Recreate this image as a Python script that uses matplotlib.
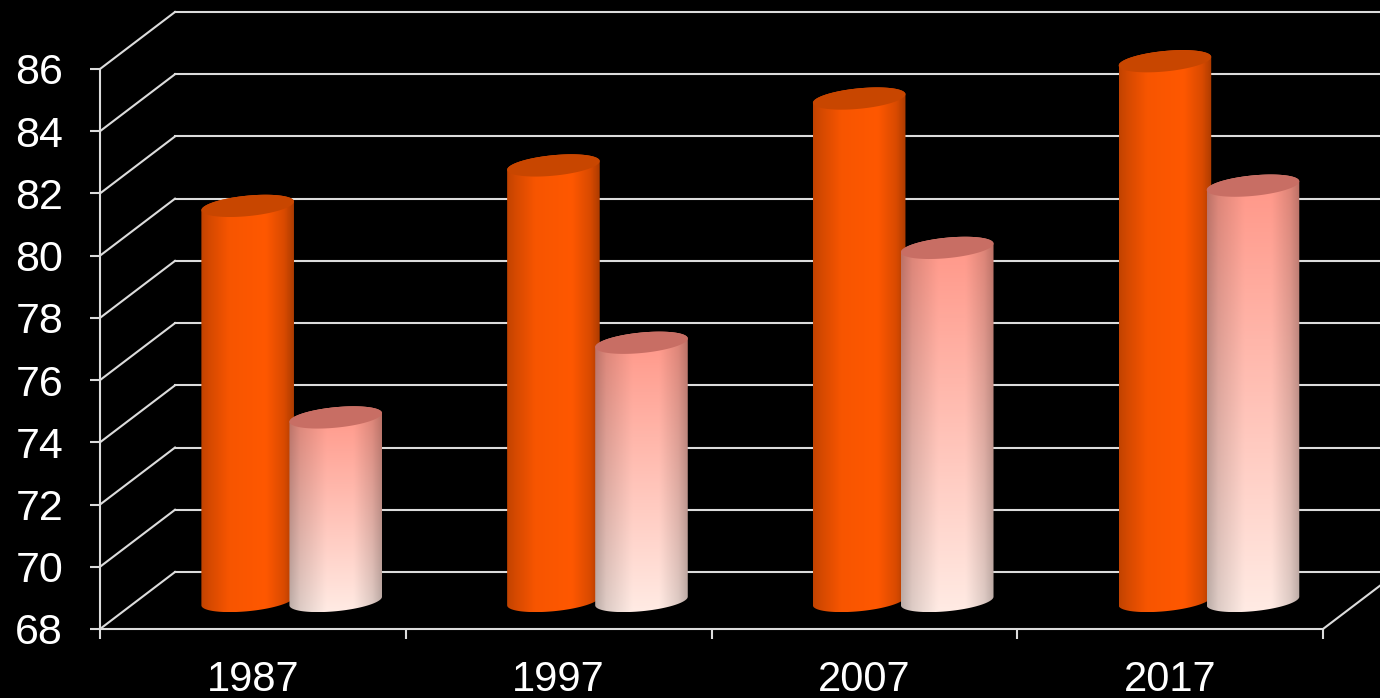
import numpy as np
import matplotlib
matplotlib.use('Agg')
import matplotlib.pyplot as plt
from matplotlib.path import Path
from matplotlib.patches import PathPatch

plt.rcParams['font.family'] = ['Liberation Sans', 'DejaVu Sans']

anni = ['1987', '1997', '2007', '2017']
serie_a = [80.7, 82.0, 84.15, 85.35]
serie_b = [73.9, 76.3, 79.35, 81.35]
valori_y = list(range(68, 88, 2))

L, R, T, B = 100, 1323, 69, 629
W, H = 1380, 698

fig = plt.figure(figsize=(W / 100, H / 100), dpi=100, facecolor='black')
ax = fig.add_axes([L / W, 1 - B / H, (R - L) / W, (B - T) / H], facecolor='black')

# quanti pixel vale una unita' sugli assi
px_x = (R - L) / len(anni)
px_y = (B - T) / (valori_y[-1] - valori_y[0])
prof_x = 75 / px_x
prof_y = 57 / px_y
grigio = '#dcdcdc'
A_ELL, B_ELL, PHI = 46.5, 10.2, np.radians(5.6)

# griglia di fondo e pareti laterali
for v in valori_y:
    ax.plot([prof_x, 4 + prof_x], [v + prof_y, v + prof_y], color=grigio, lw=1.5,
            clip_on=False, zorder=1)
    ax.plot([0, prof_x], [v, v + prof_y], color=grigio, lw=1.5, clip_on=False, zorder=1)
ax.plot([4, 4 + prof_x], [68, 68 + prof_y], color=grigio, lw=1.5, clip_on=False, zorder=1)


def ellisse(cx, cy, t):
    ex = A_ELL * np.cos(t) * np.cos(PHI) - B_ELL * np.sin(t) * np.sin(PHI)
    ey = A_ELL * np.cos(t) * np.sin(PHI) + B_ELL * np.sin(t) * np.cos(PHI)
    return np.column_stack([cx + ex / px_x, cy + ey / px_y])


def cilindro(cx, valore, col_alto, col_basso, col_tappo, luce, z):
    base = valori_y[0] + 0.9
    cima = valore + 0.9
    t0 = np.arctan(-(B_ELL / A_ELL) * np.tan(PHI))
    basso = ellisse(cx, base, np.linspace(t0 + np.pi, t0 + 2 * np.pi, 60))
    alto = ellisse(cx, cima, np.linspace(t0, t0 + np.pi, 60))
    punti = np.vstack([basso, alto, basso[:1]])
    corpo = PathPatch(Path(punti), fc='none', ec='none', transform=ax.transData)
    ax.add_patch(corpo)

    # sfumatura: luce in orizzontale, colore in verticale
    xs = np.linspace(0, 1, 120)
    ys = np.linspace(0, 1, 200)[:, None, None]
    fascia = np.interp(xs, luce[0], luce[1])[None, :, None]
    col = np.array(col_alto)[None, None, :] * (1 - ys) + np.array(col_basso)[None, None, :] * ys
    img = np.clip(col * fascia, 0, 255).astype(np.uint8)
    x0, x1 = punti[:, 0].min(), punti[:, 0].max()
    y0, y1 = punti[:, 1].min(), punti[:, 1].max()
    im = ax.imshow(img, extent=[x0, x1, y0, y1], aspect='auto', zorder=z, interpolation='bilinear')
    im.set_clip_box(fig.bbox)
    im.set_clip_path(corpo)

    tt = np.linspace(0, 2 * np.pi, 120)
    ax.add_patch(PathPatch(Path(ellisse(cx, cima, tt)), fc=col_tappo, ec='none',
                           clip_on=False, zorder=z + 0.1))


luce_a = ([0, 0.08, 0.3, 0.7, 0.9, 1], [0.76, 0.83, 0.97, 1.0, 0.85, 0.68])
luce_b = ([0, 0.12, 0.4, 0.7, 0.9, 1], [0.74, 0.87, 1.0, 1.0, 0.87, 0.74])

for i in range(len(anni)):
    cilindro(i + 0.483, serie_a[i], (255, 88, 0), (255, 88, 0), '#c84600', luce_a, 3 + i)
    cilindro(i + 0.771, serie_b[i], (255, 150, 135), (255, 235, 228), '#c86e64', luce_b, 3.5 + i)

ax.set_xlim(0, 4)
ax.set_ylim(valori_y[0], valori_y[-1])

for s in ['top', 'right']:
    ax.spines[s].set_visible(False)
for s in ['left', 'bottom']:
    ax.spines[s].set_color(grigio)
    ax.spines[s].set_linewidth(1.5)

ax.set_yticks(valori_y)
ax.set_yticklabels([str(v) for v in valori_y])
ax.set_xticks(range(5))
ax.set_xticklabels([])
ax.set_xticks(np.arange(len(anni)) + 0.5, labels=anni, minor=True)
ax.tick_params(axis='x', which='major', length=7.5, width=1.5, color=grigio)
ax.tick_params(axis='x', which='minor', length=0, labelsize=30, labelcolor='white', pad=22)
ax.tick_params(axis='y', length=7.5, width=1.5, color=grigio, labelsize=31, labelcolor='white', pad=19)

fig.savefig('out.png', dpi=100, facecolor='black')
